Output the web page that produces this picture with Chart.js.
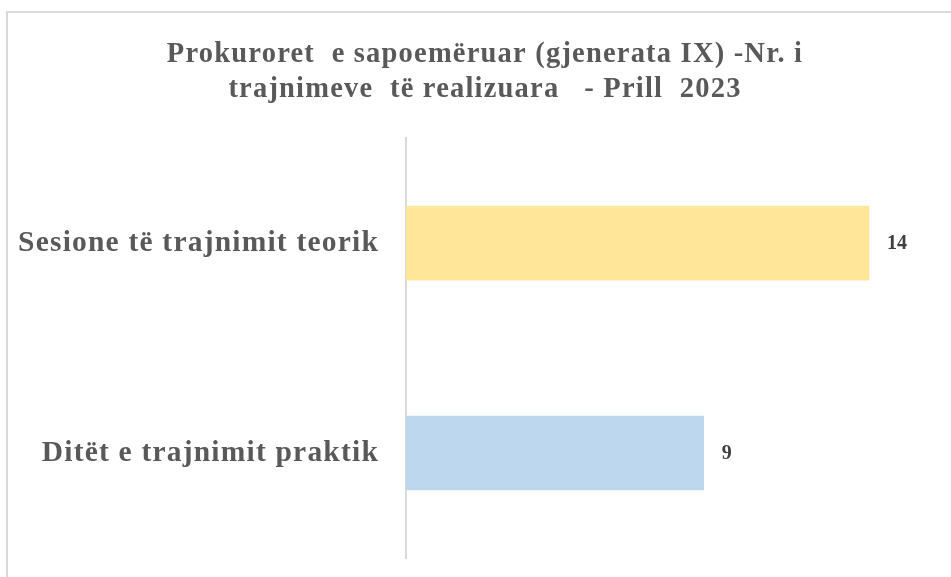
<!DOCTYPE html>
<html>
<head>
<meta charset="utf-8">
<script src="https://cdn.jsdelivr.net/npm/chart.js@4"></script>
<style>
  html, body { margin: 0; padding: 0; background: #fff; overflow: hidden; }
  .wrap { position: relative; width: 951px; height: 577px; }
  .frame {
    position: absolute;
    left: 6px; top: 11px; right: -10px; bottom: -10px;
    border-top: 2px solid #d9d9d9;
    border-left: 2px solid #d9d9d9;
  }
  canvas { position: absolute; left: 0; top: 0; }
</style>
</head>
<body>
<div class="wrap">
  <div class="frame"></div>
  <canvas id="chart" width="951" height="577"></canvas>
</div>
<script>
const categories = ["Sesione të trajnimit teorik", "Ditët e trajnimit praktik"];
const values = [14, 9];
const barColours = ["#FFE699", "#BDD7EE"];
const titleLines = ["Prokuroret  e sapoemëruar (gjenerata IX) -Nr. i", "trajnimeve  të realizuara   - Prill  2023"];

const serif = "'Liberation Serif', 'Times New Roman', serif";

// the original text is a bit spread out, so space the letters for title and ticks
const spacing = {
  id: "spacing",
  beforeDraw(chart) { chart.ctx.letterSpacing = "1.2px"; },
  afterDraw(chart) { chart.ctx.letterSpacing = "0px"; },
};

// draws the value just past the end of each bar
const valueLabels = {
  id: "valueLabels",
  afterDatasetsDraw(chart) {
    const ctx = chart.ctx;
    const meta = chart.getDatasetMeta(0);
    ctx.save();
    ctx.letterSpacing = "0px";
    ctx.font = "bold 20px " + serif;
    ctx.fillStyle = "#404040";
    ctx.textAlign = "left";
    ctx.textBaseline = "middle";
    meta.data.forEach((bar, i) => {
      ctx.fillText(String(values[i]), bar.x + 18, bar.y + 1);
    });
    ctx.restore();
  },
};

new Chart(document.getElementById("chart"), {
  type: "bar",
  data: {
    labels: categories,
    datasets: [{
      data: values,
      backgroundColor: barColours,
      borderWidth: 0,
      barThickness: 74,
    }],
  },
  options: {
    indexAxis: "y",
    responsive: false,
    animation: false,
    // negative right padding moves the centred title right, like the original
    layout: { padding: { left: 10, right: -9, top: 0, bottom: 19 } },
    plugins: {
      legend: { display: false },
      tooltip: { enabled: false },
      title: {
        display: true,
        text: titleLines,
        color: "#595959",
        font: { family: serif, size: 28.5, weight: "bold", lineHeight: 1.23 },
        padding: { top: 37, bottom: 31 },
      },
    },
    scales: {
      x: { display: false, min: 0, max: 16.48 },
      y: {
        grid: { display: false, drawTicks: false },
        border: { display: true, color: "#d9d9d9", width: 2 },
        ticks: {
          color: "#595959",
          padding: 27,
          font: { family: serif, size: 29.5, weight: "bold" },
        },
        afterFit(scale) {
          scale.width = 396;
          scale.paddingTop = 0;
          scale.paddingBottom = 0;
        },
      },
    },
  },
  plugins: [spacing, valueLabels],
});
</script>
</body>
</html>
